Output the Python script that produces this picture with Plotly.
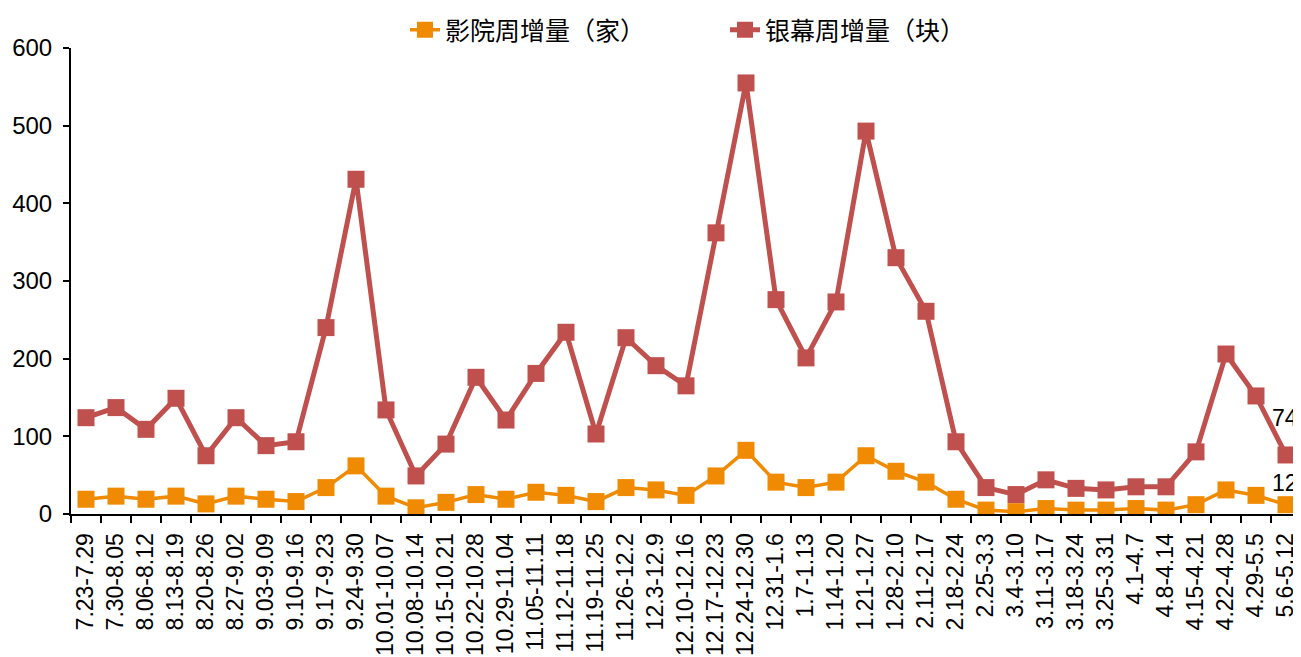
import plotly.graph_objects as go

categories = ["7.23-7.29", "7.30-8.05", "8.06-8.12", "8.13-8.19", "8.20-8.26", "8.27-9.02",
              "9.03-9.09", "9.10-9.16", "9.17-9.23", "9.24-9.30", "10.01-10.07", "10.08-10.14",
              "10.15-10.21", "10.22-10.28", "10.29-11.04", "11.05-11.11", "11.12-11.18",
              "11.19-11.25", "11.26-12.2", "12.3-12.9", "12.10-12.16", "12.17-12.23",
              "12.24-12.30", "12.31-1.6", "1.7-1.13", "1.14-1.20", "1.21-1.27", "1.28-2.10",
              "2.11-2.17", "2.18-2.24", "2.25-3.3", "3.4-3.10", "3.11-3.17", "3.18-3.24",
              "3.25-3.31", "4.1-4.7", "4.8-4.14", "4.15-4.21", "4.22-4.28", "4.29-5.5", "5.6-5.12"]

cinemas = [19, 23, 19, 23, 13, 23, 19, 16, 34, 62, 23, 8, 15, 25, 19, 28, 24, 16, 34, 31, 24,
           49, 82, 41, 34, 41, 75, 55, 41, 19, 5, 3, 7, 5, 5, 7, 5, 12, 31, 24, 12]

screens = [124, 137, 109, 149, 75, 124, 88, 93, 240, 431, 134, 49, 90, 176, 121, 181, 234, 103,
           227, 191, 165, 362, 555, 276, 201, 273, 493, 330, 261, 93, 34, 25, 44, 33, 31, 35, 35,
           80, 206, 152, 76]

screens_label = 74
cinemas_label = 12

orange = "#F08A00"
red = "#C0504D"
font_family = "Liberation Sans, Arial, sans-serif"
cjk_family = "Noto Sans CJK SC, " + font_family

# the page body adds an 8px offset, so the figure is sized to the visible area
W, H = 1293, 649

fig = go.Figure()
fig.add_trace(go.Scatter(
    x=categories, y=cinemas, mode="lines+markers", name="影院周增量（家）",
    line=dict(color=orange, width=3.5),
    marker=dict(symbol="square", size=17, color=orange),
))
fig.add_trace(go.Scatter(
    x=categories, y=screens, mode="lines+markers", name="银幕周增量（块）",
    line=dict(color=red, width=5),
    marker=dict(symbol="square", size=17, color=red),
))

fig.add_annotation(x=categories[-1], y=screens[-1], text=str(screens_label), showarrow=False,
                   yshift=37, xshift=-1, font=dict(size=23, color="#000000", family=font_family))
fig.add_annotation(x=categories[-1], y=cinemas[-1], text=str(cinemas_label), showarrow=False,
                   yshift=22, xshift=-1, font=dict(size=23, color="#000000", family=font_family))

fig.update_layout(
    width=W, height=H,
    margin=dict(l=63, r=0, t=40, b=143, autoexpand=False),
    paper_bgcolor="white", plot_bgcolor="white",
    font=dict(family=font_family, size=17, color="#000000"),
    showlegend=True,
    legend=dict(orientation="h", x=(397 - 63) / 1230, xanchor="left",
                yref="container", y=1 - 22 / H, yanchor="middle",
                font=dict(size=25, family=cjk_family),
                entrywidth=275, entrywidthmode="pixels",
                tracegroupgap=0, bgcolor="rgba(0,0,0,0)"),
)
fig.update_xaxes(
    type="category", range=[-0.5, len(categories) - 0.5], automargin=False,
    showline=True, linecolor="#000000", linewidth=2,
    ticks="outside", tickson="boundaries", ticklen=7, tickwidth=2, tickcolor="#000000",
    tickangle=-90, tickfont=dict(size=23), ticklabelstandoff=8,
    showgrid=False, zeroline=False,
)
fig.update_yaxes(
    range=[0, 600], dtick=100, automargin=False,
    showline=True, linecolor="#000000", linewidth=2,
    ticks="outside", ticklen=6, tickwidth=2, tickcolor="#000000",
    tickfont=dict(size=24), ticklabelstandoff=6,
    showgrid=False, zeroline=False,
)

fig.write_html("out.html")
